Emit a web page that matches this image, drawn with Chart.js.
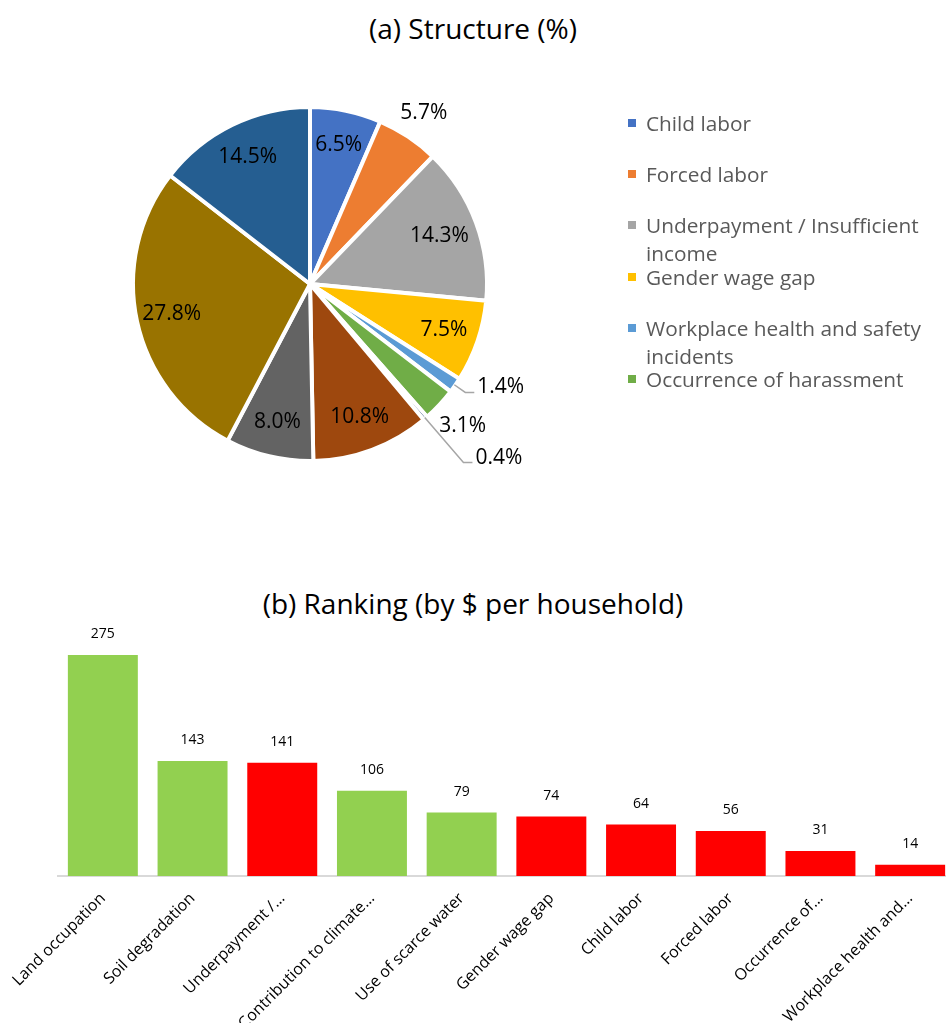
<!DOCTYPE html>
<html>
<head>
<meta charset="utf-8">
<title>Structure and ranking</title>
<script src="https://cdn.jsdelivr.net/npm/chart.js@4.4.1/dist/chart.umd.min.js"></script>
<style>
  html, body { margin: 0; padding: 0; background: #fff; overflow: hidden; }
  body { width: 946px; height: 1023px; position: relative; font-family: 'Open Sans', sans-serif; }
  .title { position: absolute; left: 0; width: 946px; text-align: center; font-size: 28px; line-height: 36px; color: #000; }
  #pieChart { position: absolute; left: 0; top: 0; }
  #barChart { position: absolute; left: 0; top: 620px; }
  .legend { position: absolute; left: 628px; top: 109px; }
  .legend-item { position: absolute; left: 0; width: 316px; font-size: 20.8px; line-height: 28px; color: #595959; }
  .legend-item i { position: absolute; left: 0; top: 10px; width: 8px; height: 8px; }
  .legend-item span { display: block; margin-left: 18px; width: 298px; }
</style>
</head>
<body>
<div class="title" style="top: 10px;">(a) Structure (%)</div>
<canvas id="pieChart" width="946" height="520"></canvas>
<div class="legend" id="pieLegend"></div>
<div class="title" style="top: 585px;">(b) Ranking (by $ per household)</div>
<canvas id="barChart" width="960" height="403"></canvas>

<script>
// (a) pie: shares in %
const pieLabels = ['Child labor', 'Forced labor', 'Underpayment / Insufficient income', 'Gender wage gap',
  'Workplace health and safety incidents', 'Occurrence of harassment', 'Other',
  'Contribution to climate change', 'Use of scarce water', 'Land occupation', 'Soil degradation'];
const pieShares = [6.5, 5.7, 14.3, 7.5, 1.4, 3.1, 0.4, 10.8, 8.0, 27.8, 14.5];
const legendCount = 6;

// (b) bars: $ per household
const barCategories = ['Land occupation', 'Soil degradation', 'Underpayment / Insufficient income',
  'Contribution to climate change', 'Use of scarce water', 'Gender wage gap', 'Child labor',
  'Forced labor', 'Occurrence of harassment', 'Workplace health and safety incidents'];
const barTickLabels = ['Land occupation', 'Soil degradation', 'Underpayment /\u2026', 'Contribution to climate\u2026',
  'Use of scarce water', 'Gender wage gap', 'Child labor', 'Forced labor', 'Occurrence of\u2026', 'Workplace health and\u2026'];
const barValues = [275, 143, 141, 106, 79, 74, 64, 56, 31, 14];
const barGroups = ['env', 'env', 'social', 'env', 'env', 'social', 'social', 'social', 'social', 'social'];

// styles
const pieColors = ['#4472C4', '#ED7D31', '#A5A5A5', '#FFC000', '#5B9BD5', '#70AD47',
  '#264478', '#9E480E', '#636363', '#997300', '#255E91'];
const groupColors = { env: '#92D050', social: '#FF0000' };
// where each pie label goes, as a fraction of the radius
const labelPlacement = [
  { mode: 'in', r: 0.8 }, { mode: 'in', r: 1.16 }, { mode: 'in', r: 0.78 }, { mode: 'in', r: 0.8 },
  { mode: 'leader', r: 1.07 }, { mode: 'in', r: 1.18 }, { mode: 'leader', r: 1.33 },
  { mode: 'in', r: 0.8 }, { mode: 'in', r: 0.8 }, { mode: 'in', r: 0.8 }, { mode: 'in', r: 0.8 }
];

Chart.defaults.font.family = "'Open Sans', sans-serif";

(function () {
  // Legend (only the first few entries are visible in the original)
  const legend = document.getElementById('pieLegend');
  pieLabels.slice(0, legendCount).forEach(function (name, i) {
    const item = document.createElement('div');
    item.className = 'legend-item';
    item.style.top = (i * 51.2) + 'px';
    item.innerHTML = '<i style="background:' + pieColors[i] + '"></i><span>' + name + '</span>';
    legend.appendChild(item);
  });

  const pieLabelPlugin = {
    id: 'pieLabels',
    afterDatasetsDraw: function (chart) {
      const ctx = chart.ctx;
      ctx.save();
      ctx.font = "21px 'Open Sans'";
      ctx.fillStyle = '#000';
      chart.getDatasetMeta(0).data.forEach(function (arc, i) {
        const p = arc.getProps(['x', 'y', 'startAngle', 'endAngle', 'outerRadius'], true);
        const mid = (p.startAngle + p.endAngle) / 2;
        const cos = Math.cos(mid), sin = Math.sin(mid);
        const place = labelPlacement[i];
        const text = pieShares[i].toFixed(1) + '%';
        if (place.mode === 'leader') {
          const r0 = p.outerRadius - 1;
          const r1 = p.outerRadius * place.r;
          const ex = p.x + r1 * cos, ey = p.y + r1 * sin;
          ctx.strokeStyle = '#A6A6A6';
          ctx.lineWidth = 1.5;
          ctx.beginPath();
          ctx.moveTo(p.x + r0 * cos, p.y + r0 * sin);
          ctx.lineTo(ex, ey);
          ctx.lineTo(ex + 9, ey);
          ctx.stroke();
          ctx.textAlign = 'left';
          ctx.textBaseline = 'middle';
          ctx.fillText(text, ex + 12, ey - 5);
        } else {
          const r = p.outerRadius * place.r;
          ctx.textAlign = 'center';
          ctx.textBaseline = 'middle';
          ctx.fillText(text, p.x + r * cos, p.y + r * sin);
        }
      });
      ctx.restore();
    }
  };

  new Chart(document.getElementById('pieChart'), {
    type: 'pie',
    data: {
      labels: pieLabels,
      datasets: [{
        data: pieShares,
        backgroundColor: pieColors,
        borderColor: '#fff',
        borderWidth: 4,
        radius: 177,
        hoverOffset: 0
      }]
    },
    options: {
      responsive: false,
      animation: false,
      devicePixelRatio: 1,
      layout: { padding: { left: 135, right: 461, top: 109, bottom: 61 } },
      plugins: { legend: { display: false }, tooltip: { enabled: false } }
    },
    plugins: [pieLabelPlugin]
  });

  const barValuePlugin = {
    id: 'barValues',
    afterDatasetsDraw: function (chart) {
      const ctx = chart.ctx;
      ctx.save();
      ctx.font = "14px 'Open Sans'";
      ctx.fillStyle = '#000';
      ctx.textAlign = 'center';
      ctx.textBaseline = 'middle';
      chart.getDatasetMeta(0).data.forEach(function (bar, i) {
        ctx.fillText(barValues[i], bar.x, bar.y - 21);
      });
      ctx.restore();
    }
  };

  new Chart(document.getElementById('barChart'), {
    type: 'bar',
    data: {
      labels: barTickLabels,
      datasets: [{
        label: '$ per household',
        data: barValues,
        backgroundColor: barGroups.map(function (g) { return groupColors[g]; }),
        categoryPercentage: 1,
        barPercentage: 0.78
      }]
    },
    options: {
      responsive: false,
      animation: false,
      devicePixelRatio: 1,
      layout: { padding: { left: 58, right: 5, top: 15, bottom: 0 } },
      plugins: { legend: { display: false }, tooltip: { enabled: false } },
      scales: {
        x: {
          grid: { display: false },
          border: { color: '#D9D9D9', width: 2 },
          ticks: { color: '#000', font: { size: 16 }, minRotation: 45, maxRotation: 45, autoSkip: false, padding: 5 },
          afterFit: function (scale) { scale.height = 147; }
        },
        y: { display: false, min: 0, max: 300 }
      }
    },
    plugins: [barValuePlugin]
  });
})();
</script>
</body>
</html>
